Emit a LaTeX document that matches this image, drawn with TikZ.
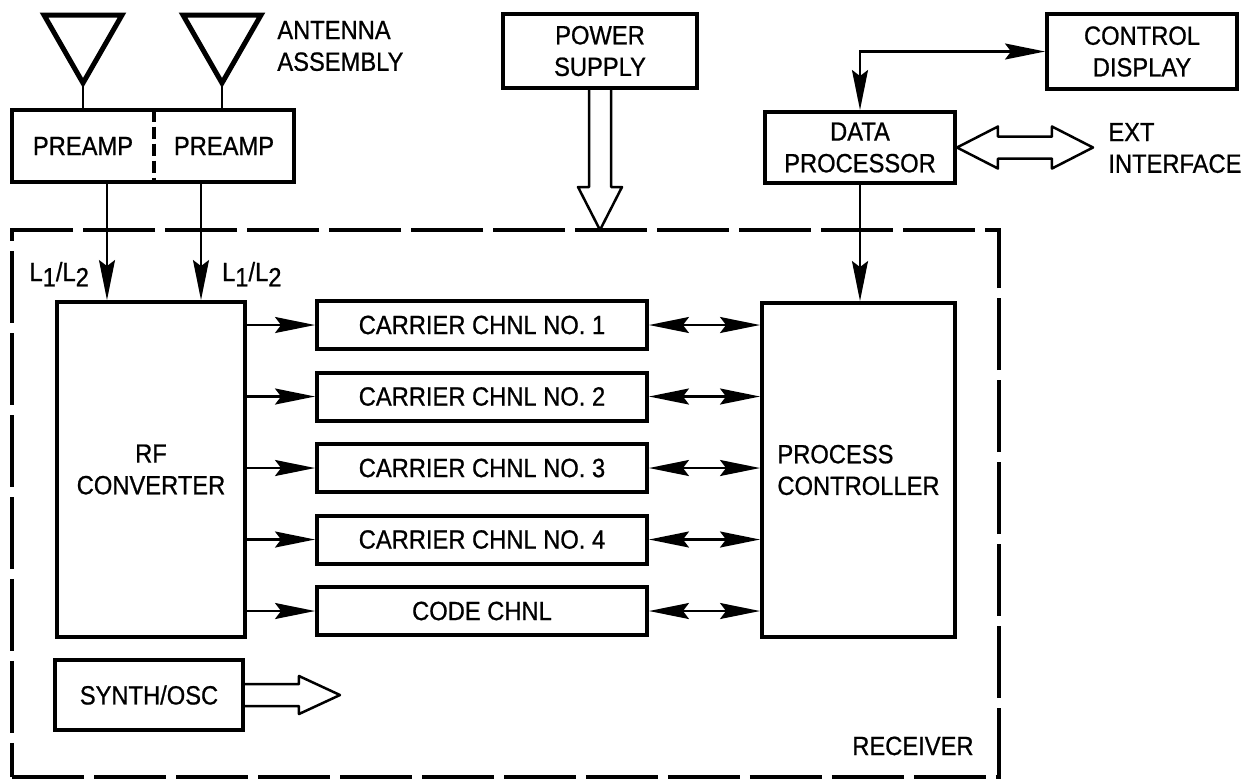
\documentclass[tikz,border=0pt]{standalone}
\usepackage{fontspec}
\setmainfont{Liberation Sans}[FakeStretch=0.9, FakeBold=0.8]
\usetikzlibrary{arrows.meta,positioning}

\begin{document}
\begin{tikzpicture}[
    x=0.02cm, y=-0.02cm,
    >={Stealth[length=0.8cm, width=0.32cm, inset=0.12cm]},
    every node/.style={font=\fontsize{15}{18}\selectfont},
    blk/.style={draw, line width=0.08cm, inner sep=2pt, align=center},
    half/.style={inner sep=0pt, minimum height=1.44cm, align=center},
    lbl/.style={inner sep=0pt, align=left},
    conn/.style={line width=0.045cm},
    hollow/.style={line width=0.05cm, line join=round},
    antenna/.style={line width=0.1cm, line join=miter},
    recv/.style={draw, line width=0.08cm, dash pattern=on 1.44cm off 0.2cm,
                 minimum width=19.74cm, minimum height=10.94cm},
  ]
  \useasboundingbox (0,0) rectangle (1250,779);

  % --- Receiver outline ---
  \node[recv] (rx) at (505.5,503.5) {};
  \node[lbl, anchor=east] (rxlabel) at ([xshift=-0.54cm, yshift=0.66cm]rx.south east) {RECEIVER};

  % --- Antenna assembly and preamps ---
  \node[half, minimum width=2.84cm] (preL) at (83,146) {PREAMP};
  \node[half, minimum width=2.8cm] (preR) at (224,146) {PREAMP};
  \draw[line width=0.08cm] (preL.north west) rectangle (preR.south east);
  \draw[line width=0.08cm, dash pattern=on 0.24cm off 0.1cm]
    (preL.north east) -- (preL.south east);
  \coordinate (antL) at (83,83);
  \coordinate (antR) at (222,83);
  \draw[antenna] (antL) -- ++(-39,-68) -- ++(78,0) -- cycle;
  \draw[antenna] (antR) -- ++(-39,-68) -- ++(78,0) -- cycle;
  \draw[conn] (antL) -- (antL |- preL.north);
  \draw[conn] (antR) -- (antR |- preR.north);
  \node[lbl, anchor=west] (antlabel) at (277,46) {ANTENNA\\ASSEMBLY};

  % --- Power supply ---
  \node[blk, minimum width=3.88cm, minimum height=1.48cm] (ps) at (600,51) {POWER\\SUPPLY};
  \draw[hollow] ([xshift=-0.22cm]ps.south) -- ++(0,97) -- ++(-11,0) -- ++(22,43)
    -- ++(22,-43) -- ++(-11,0) -- ++(0,-97);

  % --- Data processor, control display ---
  \node[blk, minimum width=3.8cm, minimum height=1.42cm] (dp) at (860,147.5) {DATA\\PROCESSOR};
  \node[blk, minimum width=3.8cm, minimum height=1.5cm] (cd) at (1142,51.5) {CONTROL\\DISPLAY};
  \draw[conn, <->] (dp.north) |- (cd.west);
  \draw[hollow] (dp.east) -- ++(41,-21) -- ++(0,10) -- ++(54,0) -- ++(0,-10) -- ++(41,21)
    -- ++(-41,21) -- ++(0,-10) -- ++(-54,0) -- ++(0,10) -- cycle;
  \node[lbl, anchor=west] (ext) at (1108,148) {EXT\\INTERFACE};

  % --- Receiver blocks ---
  \node[blk, minimum width=3.76cm, minimum height=6.7cm] (rf) at (151,469.5) {RF\\CONVERTER};
  \node[blk, minimum width=3.86cm, minimum height=6.68cm, align=left] (pc) at (858.5,470) {PROCESS\\CONTROLLER};
  \node[blk, minimum width=3.76cm, minimum height=1.4cm] (synth) at (149,695) {SYNTH/OSC};
  \draw[hollow] ([yshift=0.22cm]synth.east) -- ++(54,0) -- ++(0,-8) -- ++(41,19)
    -- ++(-41,19) -- ++(0,-8) -- ++(-54,0);

  \draw[conn, ->] ([xshift=0.48cm]preL.south) -- ([xshift=0.48cm]preL.south |- rf.north)
    node[lbl, pos=0.78, left=0.34cm] {L\raisebox{-3pt}{1}/L\raisebox{-3pt}{2}};
  \draw[conn, ->] ([xshift=-0.46cm]preR.south) -- ([xshift=-0.46cm]preR.south |- rf.north)
    node[lbl, pos=0.78, right=0.4cm] {L\raisebox{-3pt}{1}/L\raisebox{-3pt}{2}};
  \draw[conn, ->] (dp.south) -- (dp.south |- pc.north);

  % --- Channels ---
  \foreach \i/\yy/\txt in {1/325/CARRIER CHNL NO. 1, 2/396.5/CARRIER CHNL NO. 2,
      3/468/CARRIER CHNL NO. 3, 4/539.5/CARRIER CHNL NO. 4, 5/611/CODE CHNL} {
    \node[blk, minimum width=6.6cm, minimum height=0.96cm] (ch\i) at (482,\yy) {\txt};
    \draw[conn, ->] (rf.east |- ch\i.west) -- (ch\i.west);
    \draw[conn, <->] (ch\i.east) -- (ch\i.east -| pc.west);
  }
\end{tikzpicture}
\end{document}
